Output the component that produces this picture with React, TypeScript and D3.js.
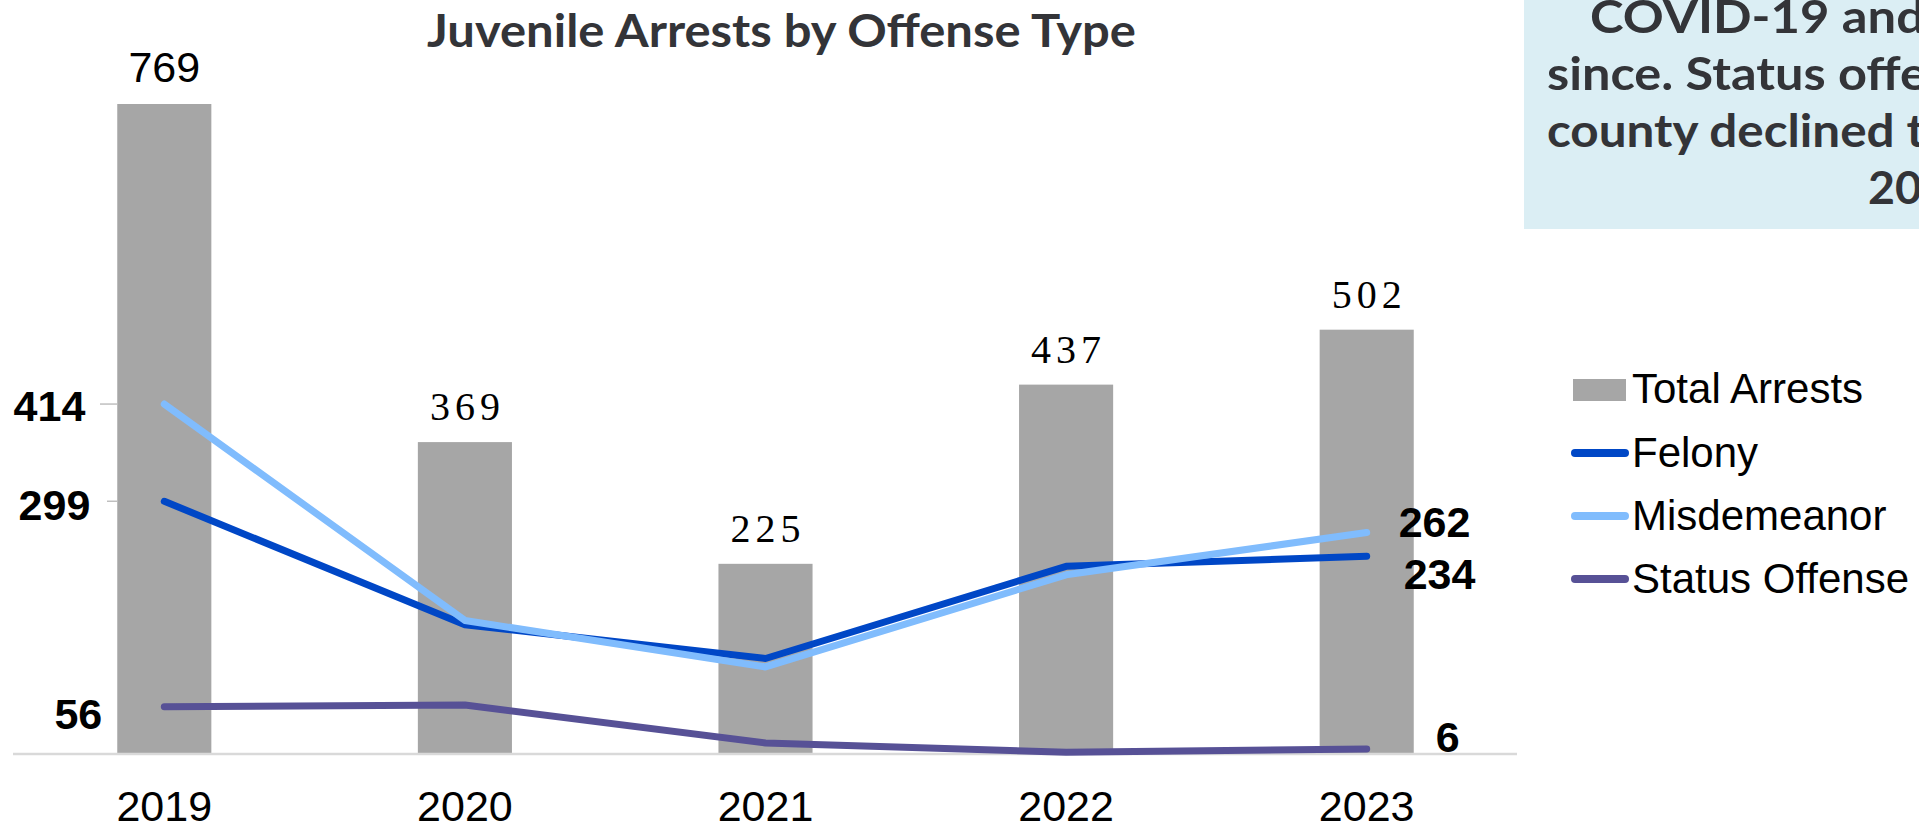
import React, { useEffect, useRef } from "react";
import * as d3 from "d3";

const years = ["2019", "2020", "2021", "2022", "2023"];
const totalArrests = [769, 369, 225, 437, 502];
const felony = [299, 153, 113, 222, 234];
const misdemeanor = [414, 158, 103, 212, 262];
const statusOffense = [56, 58, 13, 2, 6];

const seriesNames = ["Felony", "Misdemeanor", "Status Offense"];
const seriesColors = ["#0047c6", "#80bcfd", "#575196"];

const noteLines = ["COVID-19 and", "since. Status offe", "county declined t", "20"];

const W = 1919;
const H = 824;

const App: React.FC = () => {
  const svgRef: any = useRef();

  useEffect(() => {
    document.body.style.margin = "0";
    document.body.style.overflow = "hidden";

    const svg = d3.select(svgRef.current);
    svg.selectAll("*").remove();

    const x = d3.scaleBand().domain(years).range([14, 1517]).padding(0);
    const y = d3.scaleLinear().domain([0, 769]).range([754, 104]);
    const cx = (i: number) => (x(years[i]) as number) + x.bandwidth() / 2;
    const barW = x.bandwidth() * 0.313;

    // note box on the right
    svg.append("rect")
      .attr("x", 1524).attr("y", 0)
      .attr("width", W - 1524).attr("height", 229)
      .attr("fill", "#dbeef4");

    const noteX = [1590, 1547, 1547, 1868];
    const noteLen = [335, 380, 378, 54];
    noteLines.forEach((t, i) => {
      svg.append("text")
        .attr("x", noteX[i])
        .attr("y", 33 + i * 57)
        .attr("font-family", "Lato, 'Open Sans', sans-serif")
        .attr("font-weight", 700)
        .attr("font-size", 46)
        .attr("fill", "#333438")
        .attr("textLength", noteLen[i])
        .attr("lengthAdjust", "spacingAndGlyphs")
        .text(t);
    });

    // title
    svg.append("text")
      .attr("x", 427).attr("y", 47)
      .attr("font-family", "Lato, 'Open Sans', sans-serif")
      .attr("font-weight", 700)
      .attr("font-size", 46)
      .attr("fill", "#333438")
      .attr("textLength", 709)
      .attr("lengthAdjust", "spacingAndGlyphs")
      .text("Juvenile Arrests by Offense Type");

    // bars
    svg.selectAll(".bar")
      .data(totalArrests)
      .enter()
      .append("rect")
      .attr("x", (_, i) => cx(i) - barW / 2)
      .attr("y", (d) => y(d))
      .attr("width", barW)
      .attr("height", (d) => y(0) - y(d))
      .attr("fill", "#a6a6a6");

    // bar labels
    totalArrests.forEach((d, i) => {
      const t = svg.append("text")
        .attr("x", cx(i))
        .attr("y", y(d) - 22)
        .attr("text-anchor", "middle")
        .attr("fill", "#000")
        .text(d);
      if (i === 0) {
        t.attr("font-family", "Arial, 'Liberation Sans', sans-serif").attr("font-size", 43);
      } else {
        t.attr("font-family", "'Times New Roman', 'Liberation Serif', serif")
          .attr("font-size", 40)
          .attr("letter-spacing", 5)
          .attr("dx", 2.5);
      }
    });

    // axis line
    svg.append("line")
      .attr("x1", 13).attr("x2", 1517)
      .attr("y1", y(0)).attr("y2", y(0))
      .attr("stroke", "#d9d9d9")
      .attr("stroke-width", 2.5);

    // small leader ticks on the left
    [[misdemeanor[0], 100], [felony[0], 107]].forEach(([v, x0]) => {
      svg.append("line")
        .attr("x1", x0).attr("x2", 117)
        .attr("y1", y(v)).attr("y2", y(v))
        .attr("stroke", "#bfbfbf")
        .attr("stroke-width", 1.5);
    });

    // year labels
    years.forEach((yr, i) => {
      svg.append("text")
        .attr("x", cx(i))
        .attr("y", 821)
        .attr("text-anchor", "middle")
        .attr("font-family", "Arial, 'Liberation Sans', sans-serif")
        .attr("font-size", 43)
        .attr("fill", "#000")
        .text(yr);
    });

    const line = d3.line<number>()
      .x((_, i) => cx(i))
      .y((d) => y(d));

    // status first, felony, then misdemeanor on top
    const drawOrder = [
      { data: statusOffense, color: seriesColors[2] },
      { data: felony, color: seriesColors[0] },
      { data: misdemeanor, color: seriesColors[1] },
    ];
    drawOrder.forEach((s) => {
      svg.append("path")
        .datum(s.data)
        .attr("fill", "none")
        .attr("stroke", s.color)
        .attr("stroke-width", 7)
        .attr("stroke-linecap", "round")
        .attr("stroke-linejoin", "round")
        .attr("d", line);
    });

    // end labels
    const endLabels = [
      { v: misdemeanor[0], i: 0, dx: -79, dy: 17, anchor: "end" },
      { v: felony[0], i: 0, dx: -74, dy: 19, anchor: "end" },
      { v: statusOffense[0], i: 0, dx: -62, dy: 22, anchor: "end" },
      { v: misdemeanor[4], i: 4, dx: 32, dy: 4, anchor: "start" },
      { v: felony[4], i: 4, dx: 37, dy: 33, anchor: "start" },
      { v: statusOffense[4], i: 4, dx: 69, dy: 3, anchor: "start" },
    ];
    endLabels.forEach((l) => {
      svg.append("text")
        .attr("x", cx(l.i) + l.dx)
        .attr("y", y(l.v) + l.dy)
        .attr("text-anchor", l.anchor)
        .attr("font-family", "Arial, 'Liberation Sans', sans-serif")
        .attr("font-weight", 700)
        .attr("font-size", 43)
        .attr("fill", "#000")
        .text(l.v);
    });

    // legend
    const lg = svg.append("g").attr("font-family", "Arial, 'Liberation Sans', sans-serif").attr("font-size", 42);
    lg.append("rect")
      .attr("x", 1573).attr("y", 379)
      .attr("width", 53).attr("height", 22)
      .attr("fill", "#a6a6a6");
    lg.append("text").attr("x", 1632).attr("y", 403).attr("fill", "#000").text("Total Arrests");
    seriesNames.forEach((n, i) => {
      const ly = 453 + i * 63;
      lg.append("line")
        .attr("x1", 1575).attr("x2", 1625)
        .attr("y1", ly).attr("y2", ly)
        .attr("stroke", seriesColors[i])
        .attr("stroke-width", 8)
        .attr("stroke-linecap", "round");
      lg.append("text").attr("x", 1632).attr("y", ly + 14).attr("fill", "#000").text(n);
    });
  }, []);

  return (
    <svg
      ref={svgRef}
      width={W}
      height={H}
      style={{ position: "absolute", left: 0, top: 0, display: "block", background: "#fff" }}
    />
  );
};

export default App;
